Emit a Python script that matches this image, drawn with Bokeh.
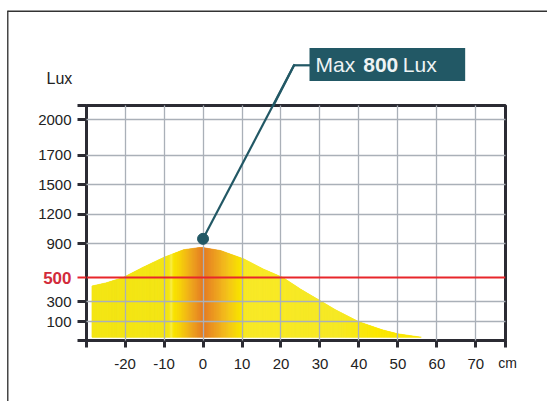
import math
import numpy as np
from bokeh.plotting import figure
from bokeh.models import Range1d, FixedTicker, Label, Span, ColumnDataSource
from bokeh.embed import file_html
from bokeh.resources import INLINE

# ---------------- data ----------------
X_TICKS = [-20, -10, 0, 10, 20, 30, 40, 50, 60, 70]
Y_TICK_LUX = [100, 300, 500, 900, 1200, 1500, 1700, 2000]
THRESHOLD_LUX = 500
CURVE_CM = [-28.5, -25, -20.5, -15.5, -10, -5, -1, 0, 4.5, 10.5, 15.5, 20.5, 25, 30, 34, 40, 46, 50, 56]
CURVE_LUX = [430, 455, 500, 620, 740, 830, 855, 855, 820, 720, 600, 500, 405, 310, 220, 100, 48, 22, 0]
PEAK_CM, PEAK_MARK_LUX = 0, 950
BOX_TEXT = ["Max", "800", "Lux"]

# non-linear lux axis: lux -> axis position
SCALE_LUX = [0, 100, 300, 500, 900, 1200, 1500, 1700, 2000]
SCALE_POS = [3.3, 18.7, 38.7, 63.0, 96.7, 126.5, 156.0, 185.5, 220.8]


def ypos(lux):
    return np.interp(lux, SCALE_LUX, SCALE_POS)


# ---------------- layout ----------------
W, H = 547, 401
BL, BR, BT, BB = 86, 42, 105, 61
FW, FH = W - BL - BR, H - BT - BB
XR = (-29.9, 77.6)
YR = (0, 235)


def X(px):
    return XR[0] + (px - BL) * (XR[1] - XR[0]) / FW


def Y(py):
    return YR[0] + (BT + FH - py) * (YR[1] - YR[0]) / FH


def PX(x):
    return BL + (x - XR[0]) * FW / (XR[1] - XR[0])


def PY(y):
    return BT + FH - (y - YR[0]) * FH / (YR[1] - YR[0])


AX = "#2b2b33"
GRID = "#aab0b8"
RED = "#e8262b"
TEAL = "#225865"
FONT = "Liberation Sans"

p = figure(width=W, height=H, x_range=Range1d(*XR), y_range=Range1d(*YR),
           output_backend="svg", toolbar_location=None,
           min_border_left=BL, min_border_right=BR, min_border_top=BT, min_border_bottom=BB)
p.outline_line_color = AX
p.outline_line_width = 3
p.background_fill_color = "white"
p.border_fill_color = "white"


def bar(px, py, length, color, thick, side, angle=0.0, down=0):
    """thin solid bar drawn as a label background (not clipped to the frame)"""
    if down:
        lab = Label(x=X(px), y=Y(py), text=" ", text_align="left", text_baseline="top",
                    text_font=FONT, text_font_size="%.2fpx" % thick, text_color=color,
                    background_fill_color=color, padding=dict(left=0, right=1, top=0, bottom=int(down)))
    else:
        lab = Label(x=X(px), y=Y(py), text=" ", text_align="left", text_baseline="middle", angle=angle,
                    text_font=FONT, text_font_size="%.2fpx" % thick, text_color=color,
                    background_fill_color=color, padding=dict(left=0, right=int(round(length)), top=0, bottom=0))
    p.add_layout(lab, side)


# fill (base + horizontal gradient slices)
curve_pos = ypos(np.array(CURVE_LUX, dtype=float))
base = float(ypos(0))
p.varea(x=CURVE_CM, y1=[base] * len(CURVE_CM), y2=list(curve_pos), fill_color="#f4e516")

stops_x = [-30, -8.6, -8.1, -7.5, -6, -3, 0, 3, 6.5, 9.5, 11, 35, 45, 60]
stops_c = np.array([(244, 229, 22), (244, 229, 22), (248, 238, 80), (250, 228, 0), (247, 212, 8),
                    (238, 165, 32), (229, 123, 36), (236, 152, 34), (244, 196, 28), (249, 226, 0),
                    (248, 234, 40), (247, 233, 38), (251, 232, 0), (252, 231, 0)], dtype=float)
edges = np.arange(CURVE_CM[0], CURVE_CM[-1] + 0.001, 0.25)
xs, ys, cols = [], [], []
for a, b in zip(edges[:-1], edges[1:]):
    ta = float(np.interp(a, CURVE_CM, curve_pos))
    tb = float(np.interp(b, CURVE_CM, curve_pos))
    xs.append([a, b, b, a])
    ys.append([base, base, tb, ta])
    m = (a + b) / 2
    c = [int(round(np.interp(m, stops_x, stops_c[:, k]))) for k in range(3)]
    cols.append("#%02x%02x%02x" % tuple(c))
src = ColumnDataSource(dict(xs=xs, ys=ys, c=cols))
p.patches("xs", "ys", source=src, fill_color="c", line_color="c", line_width=0.6)

# grid
y_tick_pos = [round(float(ypos(v)), 2) for v in Y_TICK_LUX]
p.xgrid.ticker = FixedTicker(ticks=X_TICKS)
p.ygrid.ticker = FixedTicker(ticks=[t for t, v in zip(y_tick_pos, Y_TICK_LUX) if v != THRESHOLD_LUX])
for g in (p.xgrid, p.ygrid):
    g.grid_line_color = GRID
    g.grid_line_width = 1.3
    g.level = "guide"

# axes
xe = [round(XR[0] + 0.05, 2), round(XR[1] - 0.05, 2)]
p.xaxis.ticker = FixedTicker(ticks=[xe[0]] + X_TICKS + [xe[1]])
ov = {t: str(t) for t in X_TICKS}
ov[xe[0]] = ""
ov[xe[1]] = ""
p.xaxis.major_label_overrides = ov
ye = [round(YR[0] + 0.05, 2), round(YR[1] - 0.05, 2)]
ticks_y = [ye[0]] + [t for t, v in zip(y_tick_pos, Y_TICK_LUX) if v != THRESHOLD_LUX] + [ye[1]]
p.yaxis.ticker = FixedTicker(ticks=ticks_y)
oy = {t: str(v) for t, v in zip(y_tick_pos, Y_TICK_LUX)}
oy[ye[0]] = ""
oy[ye[1]] = ""
p.yaxis.major_label_overrides = oy
for ax in (p.xaxis, p.yaxis):
    ax.axis_line_color = AX
    ax.axis_line_width = 3
    ax.major_tick_line_color = AX
    ax.major_tick_line_width = 3
    ax.major_tick_in = 0
    ax.minor_tick_line_color = None
    ax.major_label_text_font = FONT
    ax.major_label_text_font_size = "15px"
    ax.major_label_text_color = "#222222"
p.yaxis.major_tick_out = 9
p.yaxis.major_label_standoff = 6
p.xaxis.major_tick_out = 7
p.xaxis.major_label_standoff = 11

# threshold line
thr = float(ypos(THRESHOLD_LUX))
p.add_layout(Span(location=thr, dimension="width", line_color=RED, line_width=2))
bar(77, PY(thr), 8, RED, 1.8, "above")
p.add_layout(Label(x=X(71), y=thr, text=str(THRESHOLD_LUX), text_align="right", text_baseline="middle",
                   text_font=FONT, text_font_style="bold", text_font_size="17px",
                   text_color="#d22b3b"), "below")

# outer border (top and left edges)
bar(7, 10.7, 545, "#333333", 1.3, "above")
bar(6.6, 10.2, 0, "#333333", 1.3, "left", down=395)

# callout: dot, leader and box
peak_y = float(ypos(PEAK_MARK_LUX))
bend_px, bend_py = 293.5, 64.8
p.line(x=[PEAK_CM, X(bend_px)], y=[peak_y, Y(bend_py)], line_color=TEAL, line_width=2.2, level="annotation")
p.scatter(x=[PEAK_CM], y=[peak_y], size=11, color=TEAL, level="annotation")
dpx, dpy = PX(PEAK_CM), PY(peak_y)
t = (dpy - BT) / (dpy - bend_py)
ix, iy = dpx + t * (bend_px - dpx), BT + 1
ang = math.atan2(iy - bend_py, bend_px - ix)
bar(ix, iy, math.hypot(bend_px - ix, iy - bend_py) + 1, TEAL, 2.0, "above", angle=ang)
bar(bend_px - 0.5, bend_py, 16, TEAL, 2.0, "above")

p.add_layout(Label(x=X(309), y=Y(64.0), text=BOX_TEXT[0], text_align="left", text_baseline="middle",
                   text_font=FONT, text_font_size="21px", text_color="#eef3f4",
                   background_fill_color=TEAL, padding=dict(left=6, right=110, top=5, bottom=5)), "above")
for txt, px, st in zip(BOX_TEXT[1:], [362.7, 402.3], ["bold", "normal"]):
    p.add_layout(Label(x=X(px), y=Y(64.0), text=txt, text_align="left", text_baseline="middle",
                       text_font=FONT, text_font_style=st, text_font_size="21px",
                       text_color="#eef3f4"), "above")

# axis titles
p.add_layout(Label(x=X(46), y=Y(78.3), text="Lux", text_baseline="middle",
                   text_font=FONT, text_font_size="16px", text_color="#222222"), "left")
p.add_layout(Label(x=X(497.7), y=Y(362.9), text="cm", text_baseline="middle",
                   text_font=FONT, text_font_size="14px", text_color="#222222"), "right")

open("out.html", "w").write(file_html(p, INLINE))
